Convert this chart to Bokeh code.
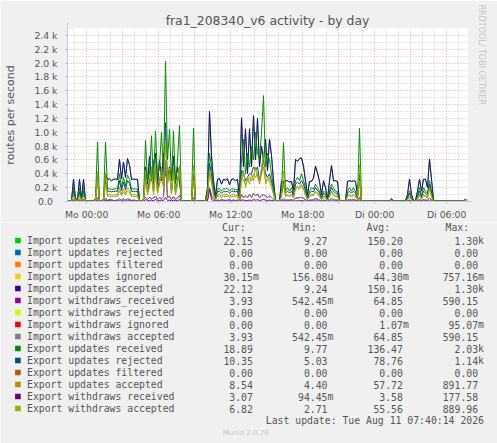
import numpy as np
from bokeh.plotting import figure
from bokeh.models import Range1d, FixedTicker, Arrow, NormalHead, ColumnDataSource, Title
from bokeh.embed import file_html
from bokeh.resources import INLINE
from bokeh.core.properties import value

# ---------------- data (routes per second, 10-minute samples) ----------------
start_hour = -1.6      # hours relative to Mo 00:00
step_minutes = 10

imp_upd_acc = [
    12, 12, 12, 320, 40, 30, 320, 40, 320, 15,
    12, 12, 12, 12, 40, 420, 15, 12, 30, 400,
    320, 325, 300, 320, 325, 320, 610, 330, 570, 350,
    620, 530, 320, 325, 320, 320, 15, 12, 30, 500,
    250, 650, 300, 550, 700, 250, 600, 300, 700, 400,
    300, 500, 300, 650, 280, 500, 300, 15, 12, 12,
    12, 12, 12, 400, 12, 12, 12, 12, 12, 12,
    200, 1300, 660, 300, 80, 320, 330, 250, 320, 310,
    330, 240, 320, 325, 300, 320, 60, 1210, 500, 1050,
    400, 1050, 500, 1240, 600, 1200, 500, 800, 600, 900,
    450, 900, 660, 300, 20, 12, 12, 295, 280, 300,
    300, 280, 290, 150, 610, 580, 620, 630, 510, 300,
    100, 290, 290, 340, 510, 410, 290, 100, 300, 200,
    30, 300, 520, 300, 300, 290, 20, 12, 12, 12,
    290, 300, 290, 300, 290, 100, 400, 15, 12, 12,
    12, 12, 12, 12, 12, 12, 12, 12, 12, 12,
    12, 12, 40, 12, 12, 12, 12, 12, 12, 12,
    100, 323, 100, 12, 12, 150, 323, 150, 323, 320,
    200, 610, 320, 20, 12, 12, 12, 12, 12, 12,
    12, 12, 12, 12, 12, 12, 12, 12, 12, 30,
    22,
]
# received is indistinguishable from accepted at this scale
imp_upd_recv = list(imp_upd_acc)

exp_upd_recv = [
    12, 12, 12, 200, 30, 25, 190, 30, 200, 12,
    12, 12, 12, 12, 30, 860, 15, 12, 25, 860,
    180, 185, 170, 180, 185, 180, 400, 200, 350, 220,
    380, 320, 180, 185, 180, 180, 15, 12, 25, 880,
    300, 400, 950, 250, 1020, 350, 500, 1000, 400, 2030,
    600, 1040, 300, 1020, 250, 600, 1100, 15, 12, 12,
    12, 12, 12, 1060, 12, 12, 12, 12, 12, 12,
    150, 700, 500, 200, 60, 180, 190, 150, 185, 180,
    190, 150, 185, 180, 170, 180, 40, 600, 900, 400,
    700, 500, 800, 600, 1000, 700, 600, 1000, 1530, 500,
    700, 600, 400, 200, 15, 12, 12, 150, 850, 150,
    200, 150, 200, 100, 300, 350, 300, 400, 300, 200,
    60, 150, 200, 180, 250, 200, 150, 60, 150, 120,
    20, 150, 250, 200, 150, 150, 15, 12, 12, 12,
    150, 200, 150, 200, 150, 50, 1057, 15, 12, 12,
    12, 12, 12, 12, 12, 12, 12, 12, 12, 12,
    12, 12, 35, 12, 12, 12, 12, 12, 12, 12,
    60, 150, 60, 12, 12, 80, 200, 80, 200, 150,
    120, 300, 150, 15, 12, 12, 12, 12, 12, 12,
    12, 12, 12, 12, 12, 12, 12, 12, 12, 25,
    19,
]

exp_upd_rej = [
    7, 7, 7, 150, 20, 15, 140, 20, 150, 8,
    7, 7, 7, 7, 20, 300, 8, 7, 15, 300,
    145, 150, 140, 145, 150, 145, 300, 160, 280, 170,
    300, 260, 145, 150, 145, 145, 8, 7, 15, 400,
    150, 300, 450, 150, 500, 180, 300, 450, 250, 1140,
    300, 450, 150, 450, 150, 300, 500, 8, 7, 7,
    7, 7, 7, 350, 7, 7, 7, 7, 7, 7,
    100, 550, 400, 150, 40, 145, 150, 120, 145, 140,
    150, 120, 145, 150, 140, 145, 30, 450, 400, 300,
    350, 400, 400, 500, 450, 500, 300, 450, 600, 400,
    350, 400, 300, 150, 10, 7, 7, 120, 300, 120,
    150, 120, 150, 80, 250, 280, 250, 300, 250, 150,
    40, 120, 150, 140, 200, 160, 120, 40, 120, 90,
    15, 120, 200, 150, 120, 120, 10, 7, 7, 7,
    120, 150, 120, 150, 120, 40, 350, 8, 7, 7,
    7, 7, 7, 7, 7, 7, 7, 7, 7, 7,
    7, 7, 20, 7, 7, 7, 7, 7, 7, 7,
    50, 120, 50, 7, 7, 60, 150, 60, 150, 120,
    90, 250, 120, 10, 7, 7, 7, 7, 7, 7,
    7, 7, 7, 7, 7, 7, 7, 7, 7, 15,
    10,
]

exp_upd_acc = [
    5, 5, 5, 90, 10, 10, 90, 10, 90, 5,
    5, 5, 5, 5, 10, 300, 5, 5, 10, 250,
    95, 100, 90, 95, 100, 95, 200, 110, 180, 120,
    200, 170, 95, 100, 95, 95, 5, 5, 10, 300,
    100, 250, 350, 120, 400, 120, 250, 380, 200, 890,
    250, 400, 120, 400, 100, 250, 450, 5, 5, 5,
    5, 5, 5, 300, 5, 5, 5, 5, 5, 5,
    80, 450, 300, 100, 30, 95, 100, 80, 95, 95,
    100, 80, 95, 100, 90, 95, 20, 350, 300, 250,
    300, 350, 300, 400, 350, 400, 250, 400, 500, 300,
    300, 350, 250, 120, 5, 5, 5, 80, 250, 80,
    100, 80, 100, 60, 200, 220, 200, 250, 200, 100,
    30, 80, 100, 100, 150, 120, 80, 30, 80, 60,
    10, 80, 150, 100, 80, 80, 5, 5, 5, 5,
    80, 100, 80, 100, 80, 30, 300, 5, 5, 5,
    5, 5, 5, 5, 5, 5, 5, 5, 5, 5,
    5, 5, 15, 5, 5, 5, 5, 5, 5, 5,
    30, 80, 30, 5, 5, 40, 100, 40, 100, 80,
    60, 200, 80, 5, 5, 5, 5, 5, 5, 5,
    5, 5, 5, 5, 5, 5, 5, 5, 5, 10,
    8.5,
]

exp_wd_recv = [
    1, 1, 1, 10, 2, 2, 8, 2, 10, 1,
    1, 1, 1, 1, 2, 20, 1, 1, 2, 20,
    5, 30, 5, 5, 5, 5, 10, 5, 10, 5,
    10, 10, 5, 5, 5, 5, 1, 1, 2, 30,
    10, 15, 20, 10, 30, 10, 15, 20, 15, 60,
    15, 20, 10, 20, 10, 15, 25, 1, 1, 1,
    1, 1, 1, 20, 1, 1, 1, 1, 1, 1,
    10, 177, 30, 10, 5, 5, 5, 5, 5, 5,
    5, 5, 5, 5, 5, 5, 2, 20, 20, 15,
    15, 20, 15, 25, 20, 25, 15, 20, 30, 20,
    15, 20, 15, 10, 1, 1, 1, 5, 15, 5,
    5, 5, 5, 3, 10, 10, 10, 15, 10, 5,
    3, 5, 5, 5, 10, 8, 5, 3, 5, 4,
    2, 5, 10, 5, 5, 5, 1, 1, 1, 1,
    5, 5, 5, 5, 5, 3, 20, 1, 1, 1,
    1, 1, 1, 1, 1, 1, 1, 1, 1, 1,
    1, 1, 1, 1, 1, 1, 1, 1, 1, 1,
    3, 5, 3, 1, 1, 4, 5, 4, 5, 5,
    4, 10, 5, 1, 1, 1, 1, 1, 1, 1,
    1, 1, 1, 1, 1, 1, 1, 1, 1, 1,
    3,
]

exp_wd_acc = [
    4, 4, 4, 80, 10, 8, 75, 10, 80, 4,
    4, 4, 4, 4, 10, 430, 5, 4, 8, 420,
    70, 75, 65, 70, 75, 70, 150, 90, 140, 90,
    150, 130, 70, 75, 70, 70, 4, 4, 8, 450,
    120, 200, 500, 100, 520, 130, 250, 500, 200, 880,
    250, 480, 110, 480, 100, 260, 520, 4, 4, 4,
    4, 4, 4, 520, 4, 4, 4, 4, 4, 4,
    60, 400, 280, 90, 25, 70, 75, 60, 70, 70,
    75, 60, 70, 75, 65, 70, 15, 300, 450, 200,
    350, 250, 400, 300, 500, 350, 300, 480, 700, 250,
    350, 300, 200, 100, 5, 4, 4, 70, 440, 70,
    90, 70, 90, 50, 180, 200, 180, 220, 180, 90,
    25, 70, 90, 90, 140, 110, 70, 25, 70, 50,
    8, 70, 140, 90, 70, 70, 5, 4, 4, 4,
    70, 90, 70, 90, 70, 25, 530, 4, 4, 4,
    4, 4, 4, 4, 4, 4, 4, 4, 4, 4,
    4, 4, 12, 4, 4, 4, 4, 4, 4, 4,
    25, 70, 25, 4, 4, 35, 90, 35, 90, 70,
    50, 180, 70, 5, 4, 4, 4, 4, 4, 4,
    4, 4, 4, 4, 4, 4, 4, 4, 4, 8,
    7,
]

imp_wd_recv = [
    2, 2, 2, 30, 5, 5, 25, 5, 30, 2,
    2, 2, 2, 2, 5, 60, 3, 2, 5, 50,
    15, 20, 25, 15, 15, 20, 40, 20, 35, 20,
    40, 30, 15, 20, 15, 15, 2, 2, 40, 60,
    30, 60, 40, 50, 80, 30, 60, 40, 70, 590,
    50, 80, 30, 70, 30, 50, 90, 2, 2, 2,
    2, 2, 2, 60, 2, 2, 2, 2, 2, 2,
    30, 200, 80, 40, 10, 20, 15, 25, 20, 15,
    20, 25, 15, 20, 15, 20, 10, 100, 60, 80,
    60, 100, 60, 120, 80, 110, 50, 90, 100, 80,
    60, 80, 60, 30, 3, 2, 2, 20, 40, 20,
    20, 20, 25, 15, 50, 50, 55, 60, 45, 25,
    10, 20, 20, 25, 40, 35, 20, 10, 20, 15,
    5, 20, 40, 25, 20, 20, 3, 2, 2, 2,
    20, 25, 20, 25, 20, 10, 60, 2, 2, 2,
    2, 2, 2, 2, 2, 2, 2, 2, 2, 2,
    2, 2, 2, 2, 2, 2, 2, 2, 2, 2,
    10, 20, 10, 2, 2, 15, 25, 15, 25, 20,
    15, 50, 20, 3, 2, 2, 2, 2, 2, 2,
    2, 2, 2, 2, 2, 2, 2, 2, 2, 2,
    4,
]
# accepted withdraws equal received withdraws (identical statistics)
imp_wd_acc = list(imp_wd_recv)

N = len(imp_upd_acc)
# series that read 0.00 (or only milli-units) over the whole day
imp_upd_rej = [0.0] * N
imp_upd_filt = [0.0] * N
imp_upd_ign = [0.0] * N
imp_wd_rej = [0.0] * N
imp_wd_ign = [0.0] * N
exp_upd_filt = [0.0] * N

series_names = [
    "Import updates received", "Import updates rejected", "Import updates filtered",
    "Import updates ignored", "Import updates accepted", "Import withdraws_received",
    "Import withdraws rejected", "Import withdraws ignored", "Import withdraws accepted",
    "Export updates received", "Export updates rejected", "Export updates filtered",
    "Export updates accepted", "Export withdraws received", "Export withdraws accepted",
]
series_colors = [
    "#00CC00", "#0066B3", "#FF8000", "#FFCC00", "#330099", "#990099", "#CCFF00",
    "#FF0000", "#808080", "#008F00", "#00487D", "#B35A00", "#B38F00", "#6B006B", "#8FB300",
]
series_values = [
    imp_upd_recv, imp_upd_rej, imp_upd_filt, imp_upd_ign, imp_upd_acc, imp_wd_recv,
    imp_wd_rej, imp_wd_ign, imp_wd_acc, exp_upd_recv, exp_upd_rej, exp_upd_filt,
    exp_upd_acc, exp_wd_recv, exp_wd_acc,
]
cur_vals = ["22.15", "0.00", "0.00", "30.15m", "22.12", "3.93", "0.00", "0.00", "3.93",
            "18.89", "10.35", "0.00", "8.54", "3.07", "6.82"]
min_vals = ["9.27", "0.00", "0.00", "156.08u", "9.24", "542.45m", "0.00", "0.00", "542.45m",
            "9.77", "5.03", "0.00", "4.40", "94.45m", "2.71"]
avg_vals = ["150.20", "0.00", "0.00", "44.30m", "150.16", "64.85", "0.00", "1.07m", "64.85",
            "136.47", "78.76", "0.00", "57.72", "3.58", "55.56"]
max_vals = ["1.30k", "0.00", "0.00", "757.16m", "1.30k", "590.15", "0.00", "95.07m", "590.15",
            "2.03k", "1.14k", "0.00", "891.77", "177.58", "889.96"]

x_tick_hours = [0, 3, 6, 9, 12, 15, 18, 21, 24, 27, 30]
x_tick_labels = ["Mo 00:00", "", "Mo 06:00", "", "Mo 12:00", "", "Mo 18:00", "",
                 "Di 00:00", "", "Di 06:00"]
y_ticks = [0, 200, 400, 600, 800, 1000, 1200, 1400, 1600, 1800, 2000, 2200, 2400]
y_tick_labels = ["0.0\u2002", "0.2 k", "0.4 k", "0.6 k", "0.8 k", "1.0 k", "1.2 k", "1.4 k",
                 "1.6 k", "1.8 k", "2.0 k", "2.2 k", "2.4 k"]

title_text = "fra1_208340_v6 activity - by day"
y_label_text = "routes per second"
side_text = "RRDTOOL/ TOBI OETIKER"
last_update = "Last update: Tue Aug 11 07:40:14 2026"
munin_version = "Munin 2.0.76"

# ---------------- styling ----------------
BG = "#F0F0F0"
FONT_COL = "#555555"
AXIS_COL = "#C4CBF2"
SANS = "DejaVu Sans"
MONO = "DejaVu Sans Mono"

t_hours = start_hour + np.arange(N) * step_minutes / 60.0
x_end = start_hour + 400 * 5 / 60.0

p = figure(width=497, height=222, x_range=Range1d(start_hour, x_end), y_range=Range1d(0, 2500),
           output_backend="svg", toolbar_location=None, title=title_text,
           min_border_left=67, min_border_right=30, min_border_top=28, min_border_bottom=19)
p.background_fill_color = "white"
p.border_fill_color = BG
p.outline_line_color = None

p.title.align = "center"
p.title.offset = -18.7
p.title.standoff = 2
p.title.text_font = SANS
p.title.text_font_size = "12.4px"
p.title.text_font_style = "normal"
p.title.text_color = FONT_COL

# faint vertical credit on the right edge
p.add_layout(Title(text=side_text, align="left", offset=-24, standoff=19,
                   text_font=SANS, text_font_size="8px", text_font_style="normal",
                   text_color="#C4C4C4"), "right")

p.xaxis.ticker = FixedTicker(ticks=x_tick_hours,
                             minor_ticks=[h for h in range(-1, 32) if h % 3 != 0])
p.xaxis.major_label_overrides = dict(zip(x_tick_hours, x_tick_labels))
p.yaxis.ticker = FixedTicker(ticks=y_ticks, minor_ticks=list(range(100, 2600, 200)))
p.yaxis.major_label_overrides = dict(zip(y_ticks, y_tick_labels))

for ax in (p.xaxis[0], p.yaxis[0]):
    ax.axis_line_color = AXIS_COL
    ax.major_tick_line_color = "#B0B0B0"
    ax.major_tick_out = 2
    ax.major_tick_in = 0
    ax.minor_tick_line_color = None
    ax.major_label_text_font = SANS
    ax.major_label_text_font_size = "9.3px"
    ax.major_label_text_color = FONT_COL
p.xaxis.major_label_standoff = 3
p.yaxis.major_label_standoff = 6
p.yaxis.axis_label = y_label_text
p.yaxis.axis_label_text_font = SANS
p.yaxis.axis_label_text_font_size = "11px"
p.yaxis.axis_label_text_font_style = "normal"
p.yaxis.axis_label_text_color = FONT_COL
p.yaxis.axis_label_standoff = 14

for g in (p.xgrid[0], p.ygrid[0]):
    g.grid_line_color = "#E4A0A0"
    g.grid_line_dash = "1 2"
    g.minor_grid_line_color = "#C8C8C8"
    g.minor_grid_line_dash = "1 2"

for vals, col in zip(series_values, series_colors):
    p.line(t_hours, vals, line_color=col, line_width=1)

p.add_layout(Arrow(end=NormalHead(size=6, fill_color=AXIS_COL, line_color=AXIS_COL),
                   x_start=start_hour, y_start=2500, x_end=start_hour, y_end=2590,
                   line_color=AXIS_COL, line_width=1))
p.add_layout(Arrow(end=NormalHead(size=6, fill_color=AXIS_COL, line_color=AXIS_COL),
                   x_start=x_end, y_start=0, x_end=x_end + 0.4, y_end=0,
                   line_color=AXIS_COL, line_width=1))

# ---------------- legend panel (page-pixel coordinates) ----------------
q = figure(width=497, height=221, x_range=Range1d(0, 497), y_range=Range1d(443, 222),
           output_backend="svg", toolbar_location=None, min_border=0,
           x_axis_location=None, y_axis_location=None)
q.background_fill_color = BG
q.border_fill_color = BG
q.outline_line_color = None
q.grid.visible = False

row_y = [240 + 12 * k for k in range(len(series_names))]


def split_unit(s):
    num = s.rstrip("kmu")
    return num, s[len(num):]


src = ColumnDataSource(dict(
    y=row_y, name=series_names, color=series_colors,
    cur_n=[split_unit(s)[0] for s in cur_vals], cur_u=[split_unit(s)[1] for s in cur_vals],
    min_n=[split_unit(s)[0] for s in min_vals], min_u=[split_unit(s)[1] for s in min_vals],
    avg_n=[split_unit(s)[0] for s in avg_vals], avg_u=[split_unit(s)[1] for s in avg_vals],
    max_n=[split_unit(s)[0] for s in max_vals], max_u=[split_unit(s)[1] for s in max_vals],
))

q.rect(x=17.4, y="y", width=5.6, height=5.6, fill_color="color", line_color=None, source=src)
txt = dict(text_font=value(MONO), text_font_size="9.8px", text_color=FONT_COL,
           text_baseline="middle", source=src)
q.text(x=26.5, y="y", text="name", text_align="left", **txt)
for xr, ncol, ucol in [(252.4, "cur_n", "cur_u"), (327.0, "min_n", "min_u"),
                       (402.4, "avg_n", "avg_u"), (477.6, "max_n", "max_u")]:
    q.text(x=xr, y="y", text=ncol, text_align="right", **txt)
    q.text(x=xr, y="y", text=ucol, text_align="left", **txt)

hdr = ColumnDataSource(dict(x=[221.5, 292.5, 366.0, 445.0], y=[226.7] * 4,
                            t=["Cur:", "Min:", "Avg:", "Max:"]))
q.text(x="x", y="y", text="t", source=hdr, text_font=value(MONO), text_font_size="9.8px",
       text_color=FONT_COL, text_baseline="middle", text_align="left")
q.text(x=[483.5], y=[419.7], text=[last_update], text_font=value(MONO), text_font_size="9.8px",
       text_color=FONT_COL, text_baseline="middle", text_align="right")
q.text(x=[222.3], y=[432.3], text=[munin_version], text_font=value(SANS), text_font_size="7px",
       text_color="#C8C8C8", text_baseline="middle", text_align="left")

open("out.html", "w").write(file_html([p, q], INLINE))
